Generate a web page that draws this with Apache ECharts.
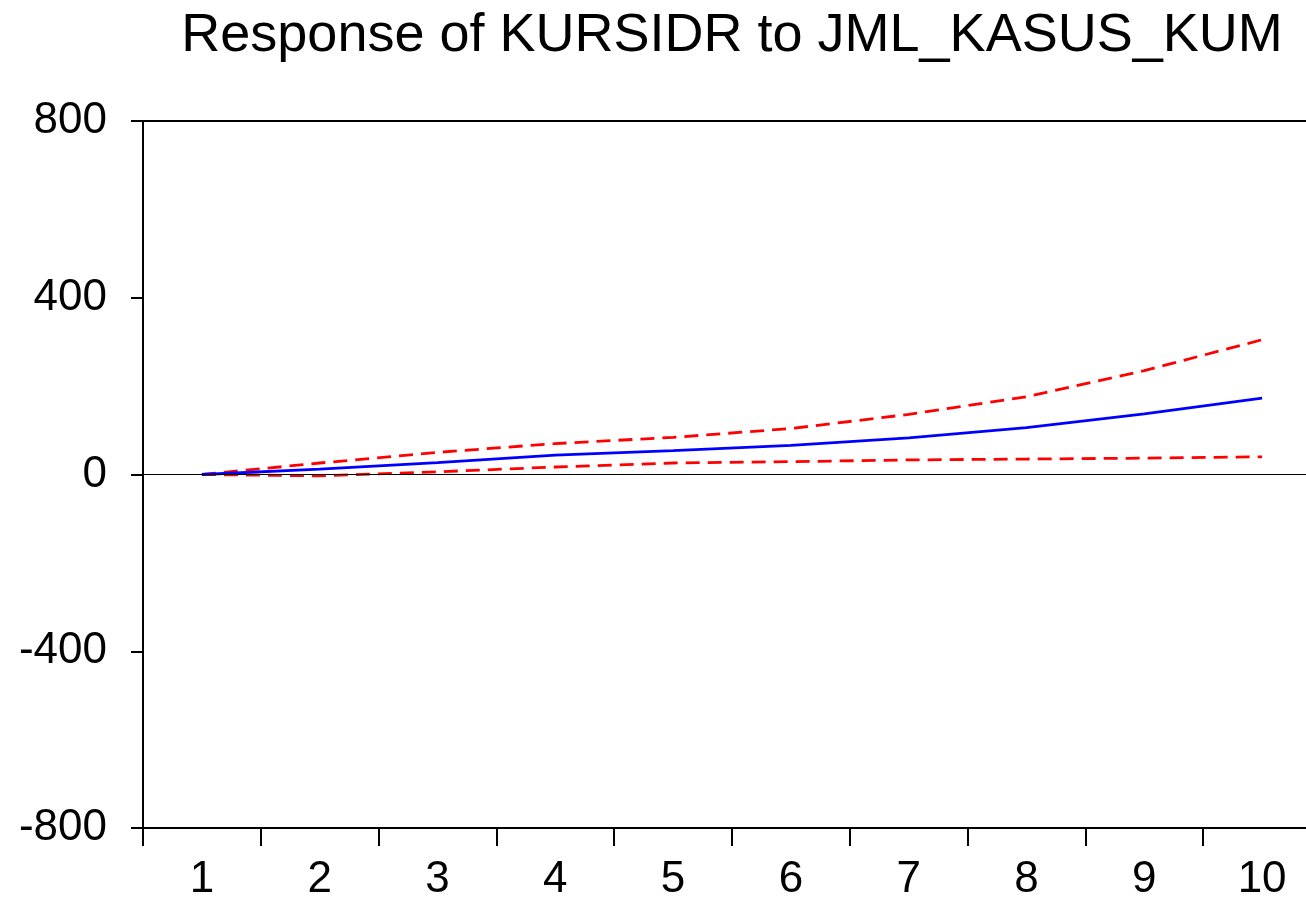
<!DOCTYPE html>
<html>
<head>
<meta charset="utf-8">
<script src="https://cdn.jsdelivr.net/npm/echarts@6/dist/echarts.min.js"></script>
<style>
  html, body { margin: 0; padding: 0; background: #fff; }
  #chart { width: 1306px; height: 901px; }
</style>
</head>
<body>
<div id="chart"></div>
<script>
// periods and impulse response values
const periods = ['1', '2', '3', '4', '5', '6', '7', '8', '9', '10'];
const response = [0, 12, 27, 44, 54, 66, 83, 106, 137, 173];
const upperBand = [0, 26, 50, 70, 84, 104, 136, 176, 235, 305];
const lowerBand = [0, -3, 6, 17, 26, 29, 33, 35, 37, 40];
const yTicks = { min: -800, max: 800, step: 400 };

const chart = echarts.init(document.getElementById('chart'));
const font = 'Liberation Sans, Arial, sans-serif';

chart.setOption({
  backgroundColor: '#fff',
  animation: false,
  title: {
    text: 'Response of KURSIDR to JML_KASUS_KUM',
    left: 727,
    textAlign: 'center',
    top: 4,
    textStyle: { fontFamily: font, fontSize: 54, fontWeight: 'normal', color: '#000' }
  },
  // the frame runs past the right edge of the picture
  grid: {
    left: 143, top: 121, right: -15, bottom: 73,
    outerBoundsMode: 'none',
    containLabel: false,
    show: true, borderColor: '#000', borderWidth: 2, backgroundColor: '#fff'
  },
  xAxis: {
    type: 'category',
    data: periods,
    boundaryGap: true,
    axisLine: { onZero: false, lineStyle: { color: '#000', width: 2 } },
    axisTick: { show: true, interval: 0, length: 18, lineStyle: { color: '#000', width: 2 } },
    axisLabel: { fontFamily: font, fontSize: 44, color: '#000', margin: 30 },
    splitLine: { show: false }
  },
  yAxis: {
    type: 'value',
    min: yTicks.min,
    max: yTicks.max,
    interval: yTicks.step,
    axisLine: { show: true, lineStyle: { color: '#000', width: 2 } },
    axisTick: { show: true, length: 12, lineStyle: { color: '#000', width: 2 } },
    axisLabel: { fontFamily: font, fontSize: 44, color: '#000', margin: 36 },
    splitLine: { show: false }
  },
  series: [
    {
      name: 'response',
      type: 'line',
      data: response,
      symbol: 'none',
      lineStyle: { color: '#0000ff', width: 2.8 },
      markLine: {
        silent: true,
        symbol: 'none',
        label: { show: false },
        lineStyle: { color: '#000', width: 1, type: 'solid' },
        data: [{ yAxis: 0 }]
      },
      z: 3
    },
    {
      name: 'upper',
      type: 'line',
      data: upperBand,
      symbol: 'none',
      lineStyle: { color: '#ff0000', width: 2.8, type: [14, 8] },
      z: 2
    },
    {
      name: 'lower',
      type: 'line',
      data: lowerBand,
      symbol: 'none',
      lineStyle: { color: '#ff0000', width: 2.8, type: [14, 8] },
      z: 2
    }
  ]
});
</script>
</body>
</html>
